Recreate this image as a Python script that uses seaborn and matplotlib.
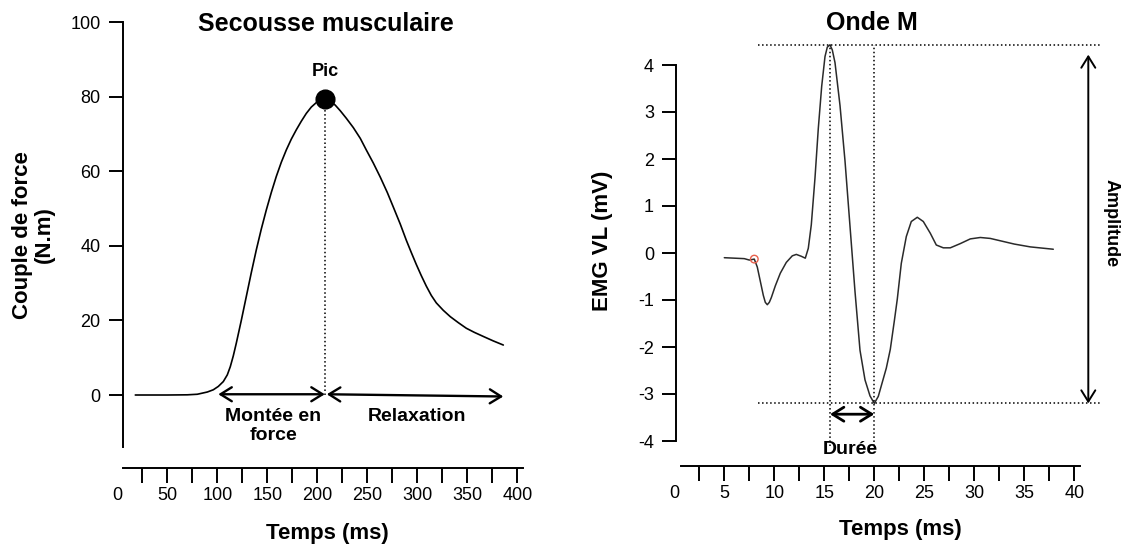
import matplotlib
matplotlib.use("Agg")
import matplotlib.pyplot as plt
import seaborn as sns
import numpy as np

# ---------------- data ----------------
twitch_time = [18, 50, 70, 80, 90, 96, 101, 106, 110, 113, 116, 119, 124, 129, 134, 139, 144,
               149, 154, 159, 164, 169, 174, 179, 184, 189, 194, 199, 204, 208, 213, 218, 223,
               229, 236, 243, 249, 256, 263, 270, 276, 283, 289, 294, 299, 304, 309, 314, 319,
               326, 333, 341, 349, 357, 366, 376, 386]
twitch_torque = [0, 0, 0.05, 0.2, 0.8, 1.4, 2.3, 3.6, 5.4, 7.6, 10.5, 13.9, 20, 26.4, 32.8, 38.9,
                 44.5, 49.6, 54.3, 58.6, 62.4, 65.7, 68.6, 71.1, 73.4, 75.5, 77.2, 78.4, 79.1,
                 79.3, 78.9, 77.7, 76.2, 74.2, 71.7, 68.8, 65.7, 62.2, 58.4, 54.3, 50.4, 45.8,
                 41.5, 38.2, 35.0, 32.0, 29.2, 26.7, 24.7, 22.7, 21.0, 19.4, 17.9, 16.8, 15.7,
                 14.5, 13.4]
peak_time = 208
peak_torque = 79.3

emg_time = [5.0, 6.0, 7.0, 7.5, 8.0, 8.3, 8.6, 8.9, 9.1, 9.3, 9.5, 9.7, 10.1, 10.6, 11.2, 11.8,
            12.2, 12.7, 13.1, 13.4, 13.7, 14.07, 14.4, 14.74, 15.07, 15.3, 15.57, 15.8, 16.07,
            16.57, 17.07, 17.57, 18.07, 18.57, 19.07, 19.57, 20.0, 20.4, 20.8, 21.2, 21.6,
            22.0, 22.3, 22.7, 23.2, 23.7, 24.3, 24.9, 25.6, 26.2, 26.9, 27.6, 28.6, 29.6,
            30.6, 31.6, 32.6, 34.0, 35.6, 37.9]
emg_mv = [-0.10, -0.11, -0.12, -0.15, -0.13, -0.3, -0.6, -0.9, -1.05, -1.1, -1.05, -0.95, -0.7,
          -0.43, -0.2, -0.06, -0.03, -0.07, -0.11, 0.1, 0.6, 1.6, 2.65, 3.55, 4.18, 4.38, 4.43,
          4.32, 4.05, 3.14, 1.96, 0.57, -0.82, -2.07, -2.70, -3.04, -3.2, -3.05, -2.75, -2.45,
          -2.05, -1.45, -0.98, -0.22, 0.35, 0.67, 0.76, 0.67, 0.42, 0.17, 0.11, 0.11, 0.2,
          0.30, 0.33, 0.31, 0.26, 0.19, 0.13, 0.08]
onset_time = 8.0
onset_mv = -0.13

twitch_xticks = [0, 50, 100, 150, 200, 250, 300, 350, 400]
twitch_xminor = [25, 75, 125, 175, 225, 275, 325, 375]
twitch_yticks = [0, 20, 40, 60, 80, 100]
emg_xticks = [0, 5, 10, 15, 20, 25, 30, 35, 40]
emg_xminor = [2.5, 7.5, 12.5, 17.5, 22.5, 27.5, 32.5, 37.5]
emg_yticks = [-4, -3, -2, -1, 0, 1, 2, 3, 4]

# ---------------- style ----------------
sns.set_theme(style="white")
plt.rcParams["font.family"] = ["Liberation Sans", "DejaVu Sans"]
plt.rcParams["axes.unicode_minus"] = False
plt.rcParams["text.color"] = "black"
plt.rcParams["axes.labelcolor"] = "black"
plt.rcParams["axes.titlecolor"] = "black"

W, H = 1126, 544
fig = plt.figure(figsize=(W / 100, H / 100), dpi=100)
ax1 = fig.add_axes([117.3 / W, (H - 469.6) / H, 406 / W, 451.3 / H])
ax2 = fig.add_axes([674.3 / W, (H - 469.2) / H, 410 / W, 427.7 / H])
for ax in (ax1, ax2):
    ax.set_facecolor("none")
    ax.spines["top"].set_visible(False)
    ax.spines["right"].set_visible(False)
    for s in ("left", "bottom"):
        ax.spines[s].set_color("black")
        ax.spines[s].set_linewidth(1.4)

arrow_kw = dict(arrowstyle="<->,head_length=0.45,head_width=0.28", color="black",
                lw=1.7, mutation_scale=18, shrinkA=0, shrinkB=0)

# ---------------- left panel ----------------
sns.lineplot(x=twitch_time, y=twitch_torque, ax=ax1, color="black", lw=1.2, sort=False)
ax1.vlines(peak_time, 0, peak_torque, colors="black", linestyles=":", lw=1.1)
sns.scatterplot(x=[peak_time], y=[peak_torque], ax=ax1, color="black", s=180,
                edgecolor="black", zorder=5)
ax1.set_xlim(0, 406)
ax1.set_ylim(-20, 101)
ax1.spines["left"].set_position(("data", 5.5))
ax1.spines["left"].set_bounds(-14, 100)
ax1.spines["bottom"].set_position(("data", -19.57))
ax1.spines["bottom"].set_bounds(6, 405.4)
ax1.set_xticks(twitch_xticks)
ax1.set_xticks(twitch_xminor, minor=True)
ax1.set_yticks(twitch_yticks)
ax1.annotate("", xy=(101, 0.2), xytext=(207.5, 0.2), arrowprops=arrow_kw, annotation_clip=False)
ax1.annotate("", xy=(209.5, 0.2), xytext=(386, -0.4), arrowprops=arrow_kw, annotation_clip=False)
ax1.text(peak_time, 86.8, "Pic", ha="center", va="center", fontsize=13, fontweight="bold")
ax1.text(156, -8.3, "Montée en\nforce", ha="center", va="center", fontsize=14,
         fontweight="bold", linespacing=1.1, clip_on=False)
ax1.text(299.4, -5.8, "Relaxation", ha="center", va="center", fontsize=14,
         fontweight="bold", clip_on=False)
ax1.set_title("Secousse musculaire", x=0.5133, y=0.9883, va="center", pad=0,
              fontsize=18, fontweight="bold")
ax1.set_xlabel("Temps (ms)", fontsize=16, fontweight="bold", va="center")
ax1.xaxis.set_label_coords(0.5165, -0.1405)
ax1.set_ylabel("Couple de force\n(N.m)", fontsize=16, fontweight="bold", va="center",
               linespacing=1.1)
ax1.yaxis.set_label_coords(-0.2064, 0.52)

# ---------------- right panel ----------------
sns.lineplot(x=emg_time, y=emg_mv, ax=ax2, color="#2a2a2a", lw=1.1, sort=False)
sns.scatterplot(x=[onset_time], y=[onset_mv], ax=ax2, s=30, facecolor="none",
                edgecolor="#e8604c", linewidth=1.0, zorder=5)
imax = int(np.argmax(emg_mv))
imin = int(np.argmin(emg_mv))
top_v, bot_v = emg_mv[imax], emg_mv[imin]
t_top, t_bot = emg_time[imax], emg_time[imin]
ax2.hlines([top_v, bot_v], 8.4, 42.7, colors="black", linestyles=":", lw=1.1, clip_on=False)
ax2.vlines([t_top, t_bot], -4.1, top_v, colors="black", linestyles=":", lw=1.1, clip_on=False)
ax2.set_xlim(0, 41)
ax2.set_ylim(-4.6, 4.5)
ax2.spines["left"].set_position(("data", 0.2))
ax2.spines["left"].set_bounds(-4, 4)
ax2.spines["bottom"].set_position(("data", -4.53))
ax2.spines["bottom"].set_bounds(0.64, 40.57)
ax2.set_xticks(emg_xticks)
ax2.set_xticks(emg_xminor, minor=True)
ax2.set_yticks(emg_yticks)
ax2.annotate("", xy=(t_top, -3.43), xytext=(t_bot, -3.43), arrowprops=dict(arrow_kw, lw=2.0),
             annotation_clip=False)
ax2.annotate("", xy=(41.4, 4.22), xytext=(41.4, bot_v), arrowprops=dict(arrow_kw, lw=1.4),
             annotation_clip=False)
ax2.text(17.6, -4.19, "Durée", ha="center", va="center", fontsize=14, fontweight="bold",
         clip_on=False)
ax2.text(43.7, 0.64, "Amplitude", ha="center", va="center", rotation=-90, fontsize=13,
         fontweight="bold", clip_on=False)
ax2.set_title("Onde M", x=0.4822, y=1.0444, va="center", pad=0, fontsize=18, fontweight="bold")
ax2.set_xlabel("Temps (ms)", fontsize=16, fontweight="bold", va="center")
ax2.xaxis.set_label_coords(0.5517, -0.142)
ax2.set_ylabel("EMG VL (mV)", fontsize=16, fontweight="bold", va="center")
ax2.yaxis.set_label_coords(-0.175, 0.5335)

for ax in (ax1, ax2):
    ax.tick_params(axis="x", which="both", direction="out", length=11, width=1.4, pad=3,
                   labelsize=13, colors="black", bottom=True, top=False)
    ax.tick_params(axis="y", which="both", direction="out", length=10, width=1.4, pad=6,
                   labelsize=13, colors="black", left=True, right=False)
    ax.grid(False)
    t0 = ax.xaxis.get_major_ticks()[0]
    t0.tick1line.set_visible(False)

fig.savefig("out.png", dpi=100)
